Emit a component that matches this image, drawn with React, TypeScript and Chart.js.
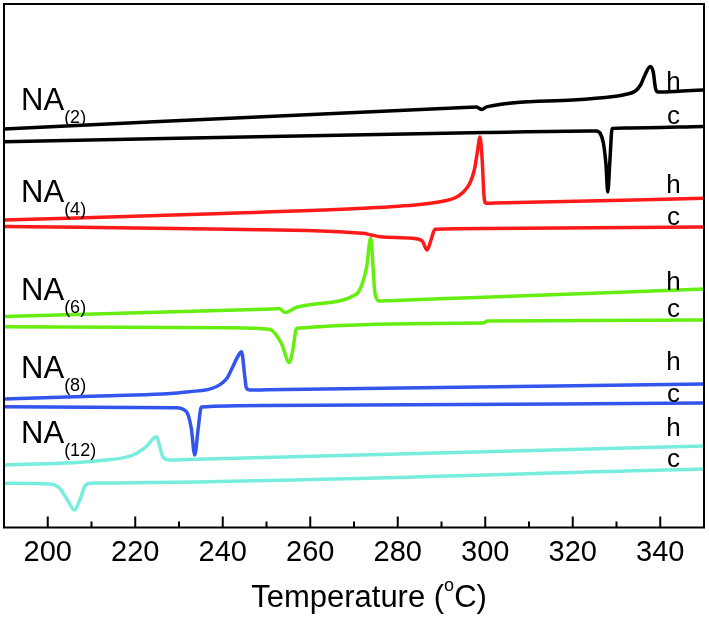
import { useEffect, useRef } from "react";
import {
  Chart,
  LineController,
  LineElement,
  PointElement,
  LinearScale,
} from "chart.js";

Chart.register(LineController, LineElement, PointElement, LinearScale);

// x axis ticks (°C)
const tickValues = [200, 220, 240, 260, 280, 300, 320, 340];
const minorTickValues = [210, 230, 250, 270, 290, 310, 330];

// sample names and run labels
const sampleNames = ["NA", "NA", "NA", "NA", "NA"];
const sampleSubs = ["(2)", "(4)", "(6)", "(8)", "(12)"];
const runLabels = ["h", "c"];
const sampleColors = ["#000000", "#ff1a1a", "#66ee11", "#3355ee", "#77eedd"];

// heat flow (a.u., stacked) vs temperature
const na2HeatT = [190, 296.5, 298, 299.2, 300.3, 320, 329.3, 332, 334.3, 335.5, 336.5, 337.7, 338.4, 338.9, 339.5, 345, 350];
const na2HeatY = [398.5, 420.2, 420.4, 418, 420.6, 427.5, 431, 433, 436.5, 442.5, 452.5, 461, 455.5, 439.5, 435.5, 436.5, 437.5];
const na2CoolT = [190, 300, 324, 325.3, 326.3, 327, 327.6, 328, 328.5, 329, 332, 350];
const na2CoolY = [385.8, 395, 396.6, 396.5, 394, 384.5, 362.5, 335.5, 367.5, 399, 399.5, 401];

const na4HeatT = [190, 240, 272, 285, 290, 293, 295, 296.5, 297.5, 298.2, 298.8, 299.3, 299.7, 300.1, 302, 350];
const na4HeatY = [307.5, 314, 319.2, 323, 326, 329.5, 335.5, 344.5, 357.5, 375.5, 390.5, 367.5, 332.5, 324.2, 324.4, 329.2];
const na4CoolT = [190, 241.6, 272, 274, 276, 283.5, 285.6, 286.7, 287.6, 288.5, 300, 350];
const na4CoolY = [301, 298.2, 294.2, 292.5, 290.8, 289.2, 286.5, 277.5, 287.5, 298.2, 299, 300.5];

const na6HeatT = [190, 251.5, 253, 254.2, 256.9, 267.5, 269.5, 271.3, 272.9, 273.8, 274.8, 275.9, 278, 296.6, 350];
const na6HeatY = [211, 218.6, 218.8, 215, 220.2, 227.5, 231, 237.5, 260.8, 289.2, 234.2, 226.5, 226.8, 229.8, 238.5];
const na6CoolT = [190, 241.6, 250.7, 253.4, 255.2, 256, 256.9, 299.5, 300.5, 350];
const na6CoolY = [200.8, 199.8, 198.2, 184.2, 164.8, 177.5, 199.2, 204.5, 206.5, 207.5];

const na8HeatT = [190, 211.8, 232.4, 238.5, 241, 242.3, 243.5, 244.3, 245, 245.4, 246.2, 250, 350];
const na8HeatY = [128.5, 131.5, 135.8, 140.8, 149.5, 160.8, 171.5, 175.8, 152.5, 139.5, 137.5, 137.7, 143.5];
const na8CoolT = [190, 229.4, 231.7, 232.8, 233.6, 234.4, 235.1, 250, 350];
const na8CoolY = [120.8, 119.8, 115.8, 99.5, 72.5, 99.5, 120.5, 122, 124.5];

const na12HeatT = [190, 211.8, 219.5, 222.5, 224.8, 226.3, 227.9, 232, 350];
const na12HeatY = [62.5, 66.8, 72.5, 80.8, 90.8, 70.8, 67.5, 67.9, 81.5];
const na12CoolT = [190, 200.4, 202.7, 204.5, 206.1, 207.5, 208.4, 209.5, 212, 350];
const na12CoolY = [44.2, 43.5, 39.2, 27.5, 17.5, 29.5, 40.8, 44.2, 44.5, 58.5];

const curves = [
  [na2HeatT, na2HeatY, na2CoolT, na2CoolY],
  [na4HeatT, na4HeatY, na4CoolT, na4CoolY],
  [na6HeatT, na6HeatY, na6CoolT, na6CoolY],
  [na8HeatT, na8HeatY, na8CoolT, na8CoolY],
  [na12HeatT, na12HeatY, na12CoolT, na12CoolY],
];

// where the text labels sit, in axis units
const nameAnchorX = 193.9;
const nameAnchorY = [417.5, 325.8, 227.5, 149.8, 84.2];
const runAnchorX = 343;
const heatAnchorY = [438, 335, 238, 158, 91.5];
const coolAnchorY = [403.5, 302.5, 210.5, 125.5, 60.5];

const FONT = "'Liberation Sans', Arial, sans-serif";

const toPoints = (xs: number[], ys: number[]) =>
  xs.map((x, i) => ({ x, y: ys[i] }));

const decorPlugin = {
  id: "decor",
  afterDatasetsDraw(chart: Chart) {
    const { ctx, chartArea, scales } = chart;
    const xs = scales.x;
    const ys = scales.y;
    ctx.save();
    ctx.fillStyle = "#000";
    ctx.textBaseline = "alphabetic";
    sampleNames.forEach((name, i) => {
      const px = xs.getPixelForValue(nameAnchorX);
      const py = ys.getPixelForValue(nameAnchorY[i]);
      ctx.font = `31px ${FONT}`;
      ctx.textAlign = "left";
      ctx.fillText(name, px, py);
      const w = ctx.measureText(name).width;
      ctx.font = `18px ${FONT}`;
      ctx.fillText(sampleSubs[i], px + w, py + 13);

      ctx.font = `26px ${FONT}`;
      ctx.textAlign = "center";
      const rx = xs.getPixelForValue(runAnchorX);
      ctx.fillText(runLabels[0], rx, ys.getPixelForValue(heatAnchorY[i]));
      ctx.fillText(runLabels[1], rx, ys.getPixelForValue(coolAnchorY[i]));
    });

    // frame and inward ticks
    ctx.strokeStyle = "#000";
    ctx.lineWidth = 2;
    ctx.strokeRect(
      chartArea.left,
      chartArea.top,
      chartArea.right - chartArea.left,
      chartArea.bottom - chartArea.top
    );
    ctx.beginPath();
    tickValues.forEach((v) => {
      const x = xs.getPixelForValue(v);
      ctx.moveTo(x, chartArea.bottom);
      ctx.lineTo(x, chartArea.bottom - 11);
    });
    minorTickValues.forEach((v) => {
      const x = xs.getPixelForValue(v);
      ctx.moveTo(x, chartArea.bottom);
      ctx.lineTo(x, chartArea.bottom - 6);
    });
    ctx.stroke();

    // axis title with superscript degree mark
    const t1 = "Temperature (";
    const t2 = "o";
    const t3 = "C)";
    ctx.textAlign = "left";
    ctx.font = `31px ${FONT}`;
    const w1 = ctx.measureText(t1).width;
    const w3 = ctx.measureText(t3).width;
    ctx.font = `18px ${FONT}`;
    const w2 = ctx.measureText(t2).width;
    const cx = (chartArea.left + chartArea.right) / 2 + 15;
    let x0 = cx - (w1 + w2 + w3) / 2;
    const by = 607;
    ctx.font = `31px ${FONT}`;
    ctx.fillText(t1, x0, by);
    x0 += w1;
    ctx.font = `18px ${FONT}`;
    ctx.fillText(t2, x0, by - 16);
    x0 += w2;
    ctx.font = `31px ${FONT}`;
    ctx.fillText(t3, x0, by);
    ctx.restore();
  },
};

export default function App() {
  const canvasRef = useRef<HTMLCanvasElement>(null);
  const chartRef = useRef<Chart | null>(null);

  useEffect(() => {
    if (!canvasRef.current) return;
    const ctx = canvasRef.current.getContext("2d");
    if (!ctx) return;

    if (chartRef.current) {
      chartRef.current.destroy();
      chartRef.current = null;
    }

    const datasets = curves.flatMap(([hT, hY, cT, cY], i) => [
      {
        label: `${sampleNames[i]}${sampleSubs[i]} h`,
        data: toPoints(hT, hY),
        borderColor: sampleColors[i],
        borderWidth: 3.5,
        pointRadius: 0,
        cubicInterpolationMode: "monotone" as const,
      },
      {
        label: `${sampleNames[i]}${sampleSubs[i]} c`,
        data: toPoints(cT, cY),
        borderColor: sampleColors[i],
        borderWidth: 3.5,
        pointRadius: 0,
        cubicInterpolationMode: "monotone" as const,
      },
    ]);

    chartRef.current = new Chart(ctx, {
      type: "line",
      data: { datasets },
      options: {
        animation: false,
        responsive: true,
        maintainAspectRatio: false,
        layout: { padding: { top: 4, left: 4, right: 5, bottom: 0 } },
        plugins: { legend: { display: false }, tooltip: { enabled: false } },
        scales: {
          x: {
            type: "linear",
            min: 190,
            max: 350,
            grid: { display: false, drawTicks: false },
            border: { display: false },
            afterBuildTicks: (scale) => {
              scale.ticks = tickValues.map((value) => ({ value }));
            },
            afterFit: (scale) => {
              scale.height = 90.5;
            },
            ticks: {
              color: "#000",
              padding: 8,
              maxRotation: 0,
              autoSkip: false,
              font: { family: FONT, size: 29 },
            },
          },
          y: {
            type: "linear",
            min: 0,
            max: 523.5,
            display: false,
          },
        },
      },
      plugins: [decorPlugin],
    });

    return () => {
      chartRef.current?.destroy();
      chartRef.current = null;
    };
  }, []);

  return (
    <div
      style={{
        position: "absolute",
        left: 0,
        top: 0,
        width: "709px",
        height: "618px",
        background: "#fff",
      }}
    >
      <canvas ref={canvasRef} />
    </div>
  );
}
